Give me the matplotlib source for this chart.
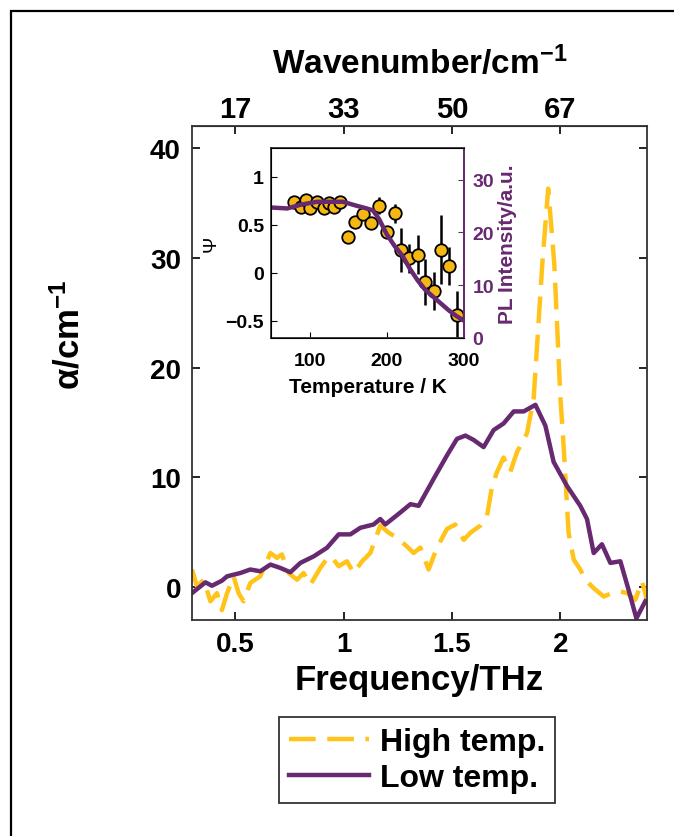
import numpy as np
import matplotlib
matplotlib.use("Agg")
import matplotlib.pyplot as plt
from matplotlib.patches import Rectangle

plt.rcParams["font.family"] = ["Liberation Sans", "DejaVu Sans"]
plt.rcParams["font.weight"] = "bold"
plt.rcParams["axes.labelweight"] = "bold"
plt.rcParams["mathtext.fontset"] = "custom"
plt.rcParams["mathtext.rm"] = "Liberation Sans:bold"
plt.rcParams["mathtext.bf"] = "Liberation Sans:bold"
plt.rcParams["mathtext.it"] = "Liberation Sans:bold"
plt.rcParams["mathtext.default"] = "bf"

# ---------------- data ----------------
THZ_TO_CM = 33.356

freq_low = [0.300, 0.362, 0.392, 0.438, 0.462, 0.523, 0.569, 0.615, 0.662, 0.708,
            0.754, 0.800, 0.862, 0.923, 0.977, 1.031, 1.077, 1.138, 1.169, 1.192,
            1.262, 1.308, 1.346, 1.415, 1.477, 1.523, 1.562, 1.600, 1.646, 1.692,
            1.738, 1.785, 1.831, 1.885, 1.931, 1.969, 2.031, 2.092, 2.123, 2.154,
            2.192, 2.231, 2.277, 2.315, 2.351, 2.392]
alpha_low = [-0.55, 0.43, 0.12, 0.58, 0.98, 1.28, 1.6, 1.44, 2.05, 1.74,
             1.35, 2.2, 2.8, 3.58, 4.8, 4.8, 5.4, 5.7, 6.2, 5.7,
             6.8, 7.55, 7.4, 9.85, 12.0, 13.5, 13.8, 13.4, 12.75, 14.3,
             14.9, 16.0, 16.0, 16.6, 14.7, 11.4, 9.2, 7.4, 6.2, 3.1,
             3.9, 2.2, 2.35, -0.25, -2.85, -1.3]

freq_high = [0.300, 0.323, 0.354, 0.385, 0.415, 0.438, 0.462, 0.492, 0.515, 0.538,
             0.569, 0.615, 0.662, 0.692, 0.715, 0.746, 0.785, 0.815, 0.846, 0.892,
             0.931, 0.954, 0.977, 1.015, 1.046, 1.085, 1.123, 1.169, 1.208, 1.246,
             1.292, 1.323, 1.354, 1.392, 1.431, 1.477, 1.515, 1.554, 1.585, 1.631,
             1.662, 1.685, 1.708, 1.738, 1.769, 1.800, 1.846, 1.877, 1.917, 1.944,
             1.972, 2.000, 2.015, 2.038, 2.062, 2.092, 2.115, 2.154, 2.200, 2.238,
             2.277, 2.308, 2.346, 2.377, 2.400]
alpha_high = [1.6, 0.06, 0.67, -1.3, -0.55, -2.1, -0.55, 0.98, -0.55, -1.3,
              0.37, 0.98, 3.1, 2.66, 2.97, 1.28, 0.67, 1.28, 0.21, 1.74,
              2.8, 2.5, 1.9, 2.35, 1.28, 2.35, 3.1, 5.6, 4.95, 4.5,
              3.7, 3.1, 3.6, 1.6, 3.6, 5.3, 5.7, 4.3, 4.95, 5.6,
              6.5, 9.2, 10.5, 11.8, 10.5, 12.3, 14.0, 17.2, 29.5, 36.3,
              29.5, 17.4, 12.9, 4.95, 2.5, 1.6, 0.67, -0.1, -0.86, -0.55,
              -0.4, -0.55, -1.16, 0.52, -1.16]

# inset: order parameter vs temperature
temp_pts = [80, 89, 95, 101, 110, 119, 125, 131, 140, 150, 159, 169, 179, 190,
            200, 210, 218, 229, 240, 250, 261, 270, 280, 291]
psi_pts = [0.74, 0.68, 0.76, 0.67, 0.74, 0.67, 0.73, 0.68, 0.74, 0.37, 0.53, 0.61,
           0.52, 0.70, 0.42, 0.62, 0.24, 0.15, 0.19, -0.10, -0.19, 0.24, 0.07, -0.44]
psi_err = [0.03, 0.03, 0.03, 0.03, 0.03, 0.03, 0.03, 0.03, 0.03, 0.03, 0.04, 0.04,
           0.04, 0.09, 0.05, 0.10, 0.23, 0.15, 0.20, 0.24, 0.20, 0.36, 0.20, 0.25]

temp_fit = [50, 71, 89, 110, 143, 160, 174, 182, 190, 200, 210, 220, 230, 240,
            250, 260, 270, 280, 290, 300]
psi_fit = [0.68, 0.67, 0.71, 0.74, 0.74, 0.70, 0.67, 0.65, 0.56, 0.40, 0.28, 0.18,
           0.04, -0.08, -0.18, -0.25, -0.32, -0.39, -0.45, -0.50]

wn_tick_freqs = [0.5, 1.0, 1.5, 2.0]

YELLOW = "#FFC31A"
PURPLE = "#67296F"

# ---------------- figure ----------------
fig = plt.figure(figsize=(6.74, 8.37), dpi=100)

# outer frame (left and top edges visible)
fig.patches.append(Rectangle((11 / 674, -0.1), 1.2, 1.1 - 12 / 837,
                             transform=fig.transFigure, fill=False,
                             edgecolor="black", linewidth=1.6))

ax = fig.add_axes([192 / 674, 1 - 621 / 837, 455 / 674, 494 / 837])
l1, = ax.plot(freq_high, alpha_high, color=YELLOW, lw=3.2, dashes=(6, 2.6),
              label="High temp.")
l2, = ax.plot(freq_low, alpha_low, color=PURPLE, lw=3.2, label="Low temp.")
ax.set_xlim(0.3, 2.4)
ax.set_ylim(-3, 42)
ax.set_xticks([0.5, 1, 1.5, 2])
ax.set_xticklabels(["0.5", "1", "1.5", "2"])
ax.set_yticks([0, 10, 20, 30, 40])
ax.tick_params(direction="in", length=6, width=1.2, labelsize=20,
               right=True, pad=8)
for s in ax.spines.values():
    s.set_linewidth(1.3)
    s.set_color("#333333")
ax.set_xlabel("Frequency/THz", fontsize=25, labelpad=4)
ax.set_ylabel(r"$\alpha$/cm$^{-1}$", fontsize=25)
ax.yaxis.set_label_coords(-0.232, 0.58)

sec = ax.secondary_xaxis("top", functions=(lambda f: f * THZ_TO_CM,
                                           lambda w: w / THZ_TO_CM))
sec.set_xticks([f * THZ_TO_CM for f in wn_tick_freqs])
sec.set_xticklabels([f"{f * THZ_TO_CM:.0f}" for f in wn_tick_freqs])
sec.tick_params(direction="in", length=6, width=1.2, labelsize=21, pad=2)
sec.set_xlabel(r"Wavenumber/cm$^{-1}$", fontsize=24, labelpad=16)

# legend under the axes
leg = fig.legend([l1, l2], ["High temp.", "Low temp."], loc="center",
                 bbox_to_anchor=(417 / 674, 1 - 761 / 837), fontsize=23,
                 frameon=True, fancybox=False, edgecolor="black",
                 handlelength=2.5, handletextpad=0.35, borderpad=0.3,
                 labelspacing=0.2)
leg.get_frame().set_linewidth(1.3)

# ---------------- inset ----------------
ins = fig.add_axes([271 / 674, 1 - 339 / 837, 193 / 674, 190 / 837])
ins.plot(temp_fit, psi_fit, color=PURPLE, lw=3.2, zorder=3)
ins.errorbar(temp_pts, psi_pts, yerr=psi_err, fmt="o", color="black",
             mfc="#F5B712", mec="black", mew=1.3, ms=9, elinewidth=1.8,
             capsize=0, zorder=2)
ins.set_xlim(50, 300)
ins.set_ylim(-0.68, 1.3)
ins.set_xticks([100, 200, 300])
ins.set_yticks([-0.5, 0, 0.5, 1])
ins.set_yticklabels(["\u22120.5", "0", "0.5", "1"])
ins.tick_params(direction="in", length=4, labelsize=14, pad=5)
ins.tick_params(axis="x", pad=10)
ins.set_xlabel("Temperature / K", fontsize=15, labelpad=6)
ins.set_ylabel("\u03a8", fontsize=14, fontweight="normal", labelpad=4)
for s in ins.spines.values():
    s.set_linewidth(1.3)
    s.set_color("#333333")
ins.spines["right"].set_color(PURPLE)

ins2 = ins.twinx()
ins2.set_ylim(0, 36)
ins2.set_yticks([0, 10, 20, 30])
ins2.tick_params(direction="in", length=4, labelsize=14, colors=PURPLE, pad=6)
ins2.spines["right"].set_color(PURPLE)
ins2.spines["right"].set_linewidth(1.3)
ins2.set_ylabel("PL Intensity/a.u.", fontsize=15, color=PURPLE, labelpad=3)

fig.savefig("out.png", dpi=100)
